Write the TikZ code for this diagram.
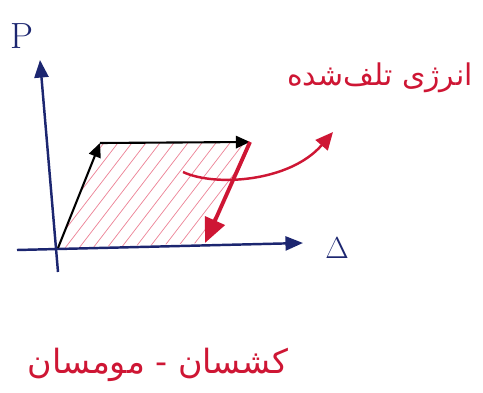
\documentclass[tikz,border=0pt]{standalone}
\usepackage{fontspec}
\usepackage{tikz}
\usetikzlibrary{arrows.meta, positioning, calc}
\usepackage{xcolor}
\definecolor{navy}{RGB}{28,38,112}
\definecolor{inkred}{RGB}{206,22,52}
\definecolor{hatchred}{RGB}{236,130,150}
\newfontfamily\arabicfont[Script=Arabic]{DejaVu Sans}
\TeXXeTstate=1

\begin{document}
\begin{tikzpicture}[x=0.02cm, y=0.02cm]
  \useasboundingbox (0,0) rectangle (483,392);
  \coordinate (O) at (58,144);
  \coordinate (A) at (100,249);
  \coordinate (B) at (250,250);
  \coordinate (C) at (205,149);
  % hatched area
  \begin{scope}
    \clip (O) -- (A) -- (B) -- (C) -- cycle;
    \foreach \x in {20,34,...,230}
      \draw[hatchred, thin] (\x,140) -- ++(100,130);
  \end{scope}
  % axes
  \coordinate (pbot) at (58,120);
  \coordinate (ptop) at (40,332);
  \coordinate (dleft) at (17,142);
  \coordinate (dtip) at (303,149);
  \draw[navy, line width=1.4pt, -{Triangle[length=10pt,width=8pt]}] (pbot) -- (ptop);
  \draw[navy, line width=1.4pt, -{Triangle[length=10pt,width=8pt]}] (dleft) -- (dtip);
  \node[navy] (plabel) at (22,356) {\huge P};
  \node[navy] (dlabel) at (337,144) {\LARGE $\Delta$};
  % loading path
  \draw[black, line width=1.2pt, -{Triangle[length=8pt,width=7pt]}] (O) -- (A);
  \draw[black, line width=1.2pt, -{Triangle[length=8pt,width=7pt]}] (A) -- (B);
  \draw[inkred, line width=2.2pt, -{Triangle[length=14pt,width=12pt]}] (B) -- (C);
  % lost energy
  \node[inkred] (lost) at (380,314) {\arabicfont\fontsize{17}{20}\selectfont\beginR انرژی تلف‌شده\endR};
  \coordinate (hstart) at (183,220);
  \draw[inkred, line width=1.4pt, -{Triangle[length=10pt,width=9pt]}] (hstart) .. controls (215,205) and (290,210) .. (333,260);
  \node[inkred] (kind) at (158,27) {\arabicfont\fontsize{19}{23}\selectfont\beginR کشسان - مومسان\endR};
\end{tikzpicture}
\end{document}
